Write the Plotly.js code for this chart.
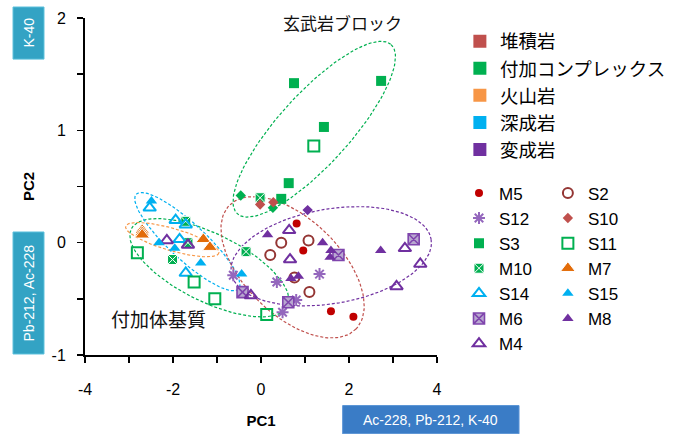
<!DOCTYPE html>
<html>
<head>
<meta charset="utf-8">
<script src="https://cdn.plot.ly/plotly-3.0.1.min.js"></script>
<style>html,body{margin:0;padding:0;background:#fff;}#chart{width:686px;height:434px;}</style>
</head>
<body>
<div id="chart"></div>
<script>
// ---- data (PC1, PC2) ----
const M5x = [0.81, 0.96, 1.59, 2.10];
const M5y = [0.17, -0.07, -0.61, -0.66];
const S2x = [0.46, 1.08, 0.21, 1.10, 0.76];
const S2y = [0.00, 0.02, -0.11, -0.44, -0.31];
const S12x = [-0.63, 0.36, 1.33, 0.80, 0.49];
const S12y = [-0.29, -0.35, -0.28, -0.51, -0.62];
const S10x = [-0.02, 0.28];
const S10y = [0.34, 0.36];
const S3x = [0.75, 2.73, 1.43, 0.63, 0.46];
const S3y = [1.42, 1.44, 1.03, 0.53, 0.39];
const S11x = [1.20, -1.05, 0.13, -2.81, -1.52];
const S11y = [0.86, -0.50, -0.64, -0.09, -0.35];
const M10x = [-0.02, -0.34, -1.71, -1.66, -2.01];
const M10y = [0.40, -0.08, 0.19, 0.00, -0.15];
const M7x = [-2.70, -2.70, -2.70, -1.31, -1.16];
const M7y = [0.11, 0.09, 0.07, 0.03, -0.04];
const S14x = [-2.53, -1.94, -1.71, -1.85, -1.71];
const S14y = [0.31, 0.20, 0.16, 0.03, -0.27];
const S15x = [-2.49, -2.32, -1.96, -1.37, -0.44];
const S15y = [0.37, 0.00, -0.05, -0.18, -0.28];
const M6x = [-0.42, 0.62, 3.47, 1.76];
const M6y = [-0.44, -0.53, 0.03, -0.11];
const M8x = [0.15, 1.40, 0.68, 0.85, 1.59, 1.57, 2.72];
const M8y = [0.07, 0.00, -0.32, -0.30, -0.07, -0.13, -0.07];
const M4x = [0.64, 0.66, -0.23, 3.27, 3.62, 3.08, -2.14, -1.66];
const M4y = [0.11, -0.15, -0.47, -0.05, -0.19, -0.39, 0.02, -0.02];
const GDx = [-0.46, 0.27];      // unlabelled green diamonds
const GDy = [0.42, 0.31];
const PDx = [1.06];             // unlabelled purple diamond
const PDy = [0.29];

// rock-type categories
const categories = ['堆積岩', '付加コンプレックス', '火山岩', '深成岩', '変成岩'];
const categoryColors = ['#c0504d', '#00b050', '#f79646', '#00b0f0', '#7030a0'];

// group ellipses: centre, conjugate semi-axis vectors (data units)
const ellColors = ['#00b050', '#00b050', '#00b0f0', '#f79646', '#c0504d', '#7030a0'];
const ellCx = [1.21, -1.173, -1.674, -2.016, 0.718, 1.595];
const ellCy = [1.01, -0.223, 0.009, 0.027, -0.219, -0.121];
const ellUx = [1.747, 1.777, 1.162, 1.059, 1.440, 2.271];
const ellUy = [0.753, -0.344, -0.421, -0.119, -0.550, 0.152];
const ellVx = [0.597, -0.340, -0.280, -0.069, -0.760, 0.181];
const ellVy = [-0.213, -0.271, -0.119, -0.0955, -0.306, -0.415];

const xTickVals = [-4, -3, -2, -1, 0, 1, 2, 3, 4];
const xTickText = ['-4', '', '-2', '', '0', '', '2', '', '4'];
const yTickVals = [-1, -0.5, 0, 0.5, 1, 1.5, 2];
const yTickText = ['-1', '', '0', '', '1', '', '2'];

const traces = [];
// ellipses
for (let i = 0; i < ellCx.length; i++) {
  const ex = [], ey = [];
  for (let k = 0; k <= 120; k++) {
    const t = 2 * Math.PI * k / 120;
    ex.push(ellCx[i] + ellUx[i] * Math.cos(t) + ellVx[i] * Math.sin(t));
    ey.push(ellCy[i] + ellUy[i] * Math.cos(t) + ellVy[i] * Math.sin(t));
  }
  traces.push({x: ex, y: ey, mode: 'lines', showlegend: false, hoverinfo: 'skip',
    line: {color: ellColors[i], width: 1.2, dash: '3px,2px'}});
}
// category legend entries
categories.forEach((c, i) => traces.push({x: [null], y: [null], mode: 'markers', name: c,
  legend: 'legend', marker: {symbol: 'square', size: 13, color: categoryColors[i]}}));

function pts(name, xs, ys, marker, leg, show) {
  traces.push({x: xs, y: ys, mode: 'markers', name: name, legend: leg,
    showlegend: show !== false, marker: marker});
}
pts('', GDx, GDy, {symbol: 'diamond', size: 8, color: '#00b050'}, 'legend2', false);
pts('', PDx, PDy, {symbol: 'diamond', size: 8, color: '#7030a0'}, 'legend2', false);
pts('M5', M5x, M5y, {symbol: 'circle', size: 8, color: '#c00000'}, 'legend2');
pts('S12', S12x, S12y, {symbol: 'asterisk-open', size: 10, line: {color: '#953735', width: 2}}, 'legend2');
pts('S3', S3x, S3y, {symbol: 'square', size: 10, color: '#00b050'}, 'legend2');
pts('M10', M10x, M10y, {symbol: 'square-x', size: 10, color: '#00b050', line: {color: '#ffffff', width: 1}}, 'legend2');
pts('S14', S14x, S14y, {symbol: 'triangle-up-open', size: 11, color: '#00b0f0', line: {color: '#00b0f0', width: 2}}, 'legend2');
pts('M6', M6x, M6y, {symbol: 'square-x', size: 11, color: '#b9a8d0', line: {color: '#7f45ad', width: 1.6}}, 'legend2');
pts('M4', M4x, M4y, {symbol: 'triangle-up-open', size: 11, color: '#7030a0', line: {color: '#7030a0', width: 2}}, 'legend2');
pts('S2', S2x, S2y, {symbol: 'circle-open', size: 10, color: '#943634', line: {color: '#943634', width: 2}}, 'legend3');
pts('S10', S10x, S10y, {symbol: 'diamond', size: 8, color: '#c0504d'}, 'legend3');
pts('S11', S11x, S11y, {symbol: 'square-open', size: 11, color: '#00b050', line: {color: '#00b050', width: 2}}, 'legend3');
pts('M7', M7x, M7y, {symbol: 'triangle-up', size: 13, color: '#e36c09', line: {color: '#ffffff', width: 1}}, 'legend3');
pts('S15', S15x, S15y, {symbol: 'triangle-up', size: 10, color: '#00b0f0'}, 'legend3');
pts('M8', M8x, M8y, {symbol: 'triangle-up', size: 10, color: '#7030a0'}, 'legend3');

const baseFont = 'Liberation Sans, Arial, sans-serif';
const cjkFont = 'Noto Sans CJK JP, sans-serif';

const layout = {
  width: 686, height: 434,
  margin: {l: 85, r: 249, t: 18, b: 79},
  paper_bgcolor: '#ffffff', plot_bgcolor: '#ffffff',
  font: {family: baseFont, size: 16, color: '#000'},
  xaxis: {range: [-4, 4], tickmode: 'array', tickvals: xTickVals, ticktext: xTickText,
    showgrid: false, zeroline: false, showline: true, linecolor: '#000', linewidth: 2,
    ticks: 'outside', ticklen: 6, tickwidth: 1.5, tickcolor: '#000',
    tickfont: {size: 16}, ticklabelstandoff: 13,
    title: {text: '<b>PC1</b>', font: {size: 15}, standoff: 18}},
  yaxis: {range: [-1, 2], tickmode: 'array', tickvals: yTickVals, ticktext: yTickText,
    showgrid: false, zeroline: false, showline: true, linecolor: '#000', linewidth: 2,
    ticks: 'outside', ticklen: 6, tickwidth: 1.5, tickcolor: '#000',
    tickfont: {size: 16}, ticklabelstandoff: 8,
    title: {text: '<b>PC2</b>', font: {size: 15}, standoff: 13}},
  legend: {x: 1.065, y: 0.986, xanchor: 'left', yanchor: 'top', bgcolor: 'rgba(0,0,0,0)',
    font: {family: cjkFont, size: 18.5}, traceorder: 'normal', itemwidth: 30},
  legend2: {x: 1.0625, y: 0.533, xanchor: 'left', yanchor: 'top', bgcolor: 'rgba(0,0,0,0)',
    font: {family: baseFont, size: 17}, traceorder: 'normal', itemwidth: 30},
  legend3: {x: 1.315, y: 0.533, xanchor: 'left', yanchor: 'top', bgcolor: 'rgba(0,0,0,0)',
    font: {family: baseFont, size: 17}, traceorder: 'normal', itemwidth: 30},
  shapes: [
    {type: 'rect', xref: 'paper', yref: 'paper', x0: -0.2045, x1: -0.1165, y0: 0.878, y1: 1.0326,
      fillcolor: '#33a3c4', line: {width: 1, color: '#5bc0dc'}},
    {type: 'rect', xref: 'paper', yref: 'paper', x0: -0.2045, x1: -0.1165, y0: 0.003, y1: 0.365,
      fillcolor: '#33a3c4', line: {width: 1, color: '#5bc0dc'}},
    {type: 'rect', xref: 'paper', yref: 'paper', x0: 0.732, x1: 1.233, y0: -0.234, y1: -0.150,
      fillcolor: '#3a7cc6', line: {width: 1, color: '#5a94d6'}}
  ],
  annotations: [
    {xref: 'paper', yref: 'paper', x: -0.1605, y: 0.9555, xanchor: 'center', yanchor: 'middle',
      text: 'K-40', textangle: -90,
      showarrow: false, font: {family: baseFont, size: 14, color: '#fff'}},
    {xref: 'paper', yref: 'paper', x: -0.1605, y: 0.184, xanchor: 'center', yanchor: 'middle',
      text: 'Pb-212, Ac-228', textangle: -90,
      showarrow: false, font: {family: baseFont, size: 14, color: '#fff'}},
    {xref: 'paper', yref: 'paper', x: 0.982, y: -0.1926, xanchor: 'center', yanchor: 'middle',
      text: 'Ac-228, Pb-212, K-40',
      showarrow: false, font: {family: baseFont, size: 14, color: '#fff'}},
    {xref: 'x', yref: 'y', x: 1.845, y: 1.964, xanchor: 'center', yanchor: 'middle',
      text: '玄武岩ブロック', showarrow: false,
      font: {family: cjkFont, size: 17, color: '#111'}},
    {xref: 'x', yref: 'y', x: -2.335, y: -0.679, xanchor: 'center', yanchor: 'middle',
      text: '付加体基質', showarrow: false,
      font: {family: cjkFont, size: 19, color: '#111'}}
  ]
};

Plotly.newPlot('chart', traces, layout, {displayModeBar: false, staticPlot: true});
</script>
</body>
</html>
